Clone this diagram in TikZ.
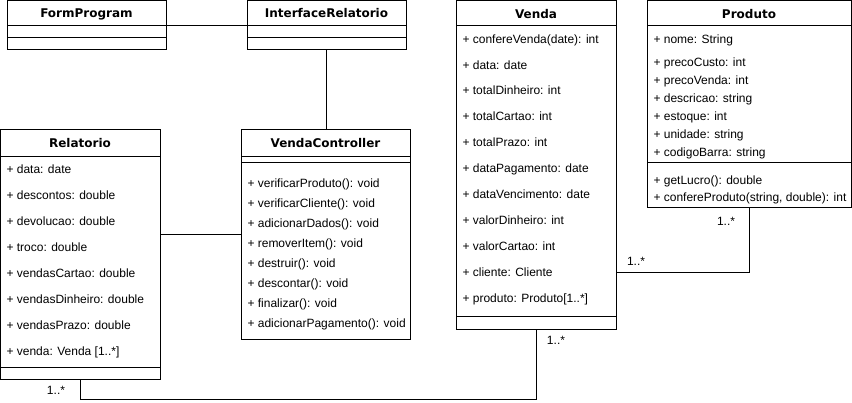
\documentclass[tikz,border=0pt]{standalone}
\usepackage{fontspec}
\setmainfont{Liberation Sans}
\newfontfamily\ttlfont{DejaVu Sans}
\begin{document}
\begin{tikzpicture}[x=1pt,y=-1pt,line width=1pt,
  cls/.style={draw,anchor=north west,inner sep=0pt,outer sep=0pt},
  ttl/.style={anchor=base,inner sep=0pt,font=\ttlfont\fontsize{12}{14}\selectfont\bfseries},
  attr/.style={anchor=base west,inner sep=0pt,font=\fontsize{12}{14}\selectfont},
  mult/.style={inner sep=0pt,font=\fontsize{12}{14}\selectfont}]
\useasboundingbox (0,0) rectangle (852,403);

% ---------- FormProgram
\node[cls,minimum width=159pt,minimum height=49pt] (form) at (7,1) {};
\node[ttl] (formT) at (86.5,18) {FormProgram};
\draw (7,26) -- (166,26);
\draw (7,38) -- (166,38);

% ---------- InterfaceRelatorio
\node[cls,minimum width=159pt,minimum height=49pt] (iface) at (247,1) {};
\node[ttl] (ifaceT) at (326.5,18) {InterfaceRelatorio};
\draw (247,26) -- (406,26);
\draw (247,38) -- (406,38);

% ---------- Relatorio
\node[cls,minimum width=159.5pt,minimum height=250pt] (rel) at (0.5,130) {};
\node[ttl] (relT) at (80,148) {Relatorio};
\draw (0.5,157) -- (160,157);
\draw (0.5,368) -- (160,368);
\foreach \yy/\tt [count=\i] in {170/{+ data: date},196/{+ descontos: double},222/{+ devolucao: double},248/{+ troco: double},274/{+ vendasCartao: double},300/{+ vendasDinheiro: double},326/{+ vendasPrazo: double},352/{+ venda: Venda [1..*]}}
  \node[attr] (rel\i) at (6,\yy+4) {\tt};

% ---------- VendaController
\node[cls,minimum width=169pt,minimum height=210pt] (vc) at (241,130) {};
\node[ttl] (vcT) at (325.5,148) {VendaController};
\draw (241,157) -- (410,157);
\draw (241,163) -- (410,163);
\foreach \yy/\tt [count=\i] in {184/{+ verificarProduto(): void},204/{+ verificarCliente(): void},224/{+ adicionarDados(): void},244/{+ removerItem(): void},264/{+ destruir(): void},284/{+ descontar(): void},304/{+ finalizar(): void},324/{+ adicionarPagamento(): void}}
  \node[attr] (vc\i) at (247,\yy+4) {\tt};

% ---------- Venda
\node[cls,minimum width=160pt,minimum height=329pt] (venda) at (456,1) {};
\node[ttl] (vendaT) at (536,19) {Venda};
\draw (456,26) -- (616,26);
\draw (456,317) -- (616,317);
\foreach \yy/\tt [count=\i] in {40/{+ confereVenda(date): int},66/{+ data: date},91/{+ totalDinheiro: int},117/{+ totalCartao: int},143/{+ totalPrazo: int},169/{+ dataPagamento: date},195/{+ dataVencimento: date},221/{+ valorDinheiro: int},247/{+ valorCartao: int},273/{+ cliente: Cliente},299/{+ produto: Produto[1..*]}}
  \node[attr] (venda\i) at (462,\yy+4) {\tt};

% ---------- Produto
\node[cls,minimum width=204.5pt,minimum height=207pt] (prod) at (647,1) {};
\node[ttl] (prodT) at (749,19) {Produto};
\draw (647,26) -- (851.5,26);
\draw (647,163) -- (851.5,163);
\foreach \yy/\tt [count=\i] in {40/{+ nome: String},62.5/{+ precoCusto: int},80.5/{+ precoVenda: int},98.5/{+ descricao: string},116.5/{+ estoque: int},134.5/{+ unidade: string},152.5/{+ codigoBarra: string},181/{+ getLucro(): double},198/{+ confereProduto(string, double): int}}
  \node[attr] (prod\i) at (653,\yy+4) {\tt};

% ---------- connectors
\draw (form.east) -- (iface.west);
\draw (iface.south) -- (iface.south |- vc.north);
\coordinate (rv) at (200,235);
\draw (rel.east |- rv) -- (vc.west |- rv);
\coordinate (vp) at (749,273);
\draw (venda.east |- vp) -- (vp) -- (prod.south -| vp);
\coordinate (ra) at (80.5,400);
\coordinate (rb) at (536.5,400);
\draw (rel.south -| ra) -- (ra) -- (rb) -- (venda.south -| rb);

% ---------- multiplicities
\node[mult] (m1) at (56,390) {1..*};
\node[mult] (m2) at (556,340) {1..*};
\node[mult] (m3) at (636,261) {1..*};
\node[mult] (m4) at (726,221) {1..*};
\end{tikzpicture}
\end{document}
